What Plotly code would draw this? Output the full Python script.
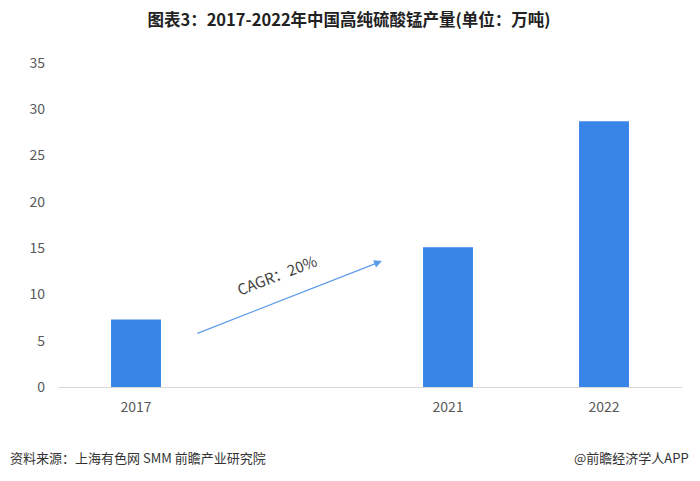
import plotly.graph_objects as go

categories = ["2017", " ", "2021", "2022"]
values = [7.3, None, 15.1, 28.7]
y_ticks = [0, 5, 10, 15, 20, 25, 30, 35]

title_text = "图表3：2017-2022年中国高纯硫酸锰产量(单位：万吨)"
source_text = "资料来源：上海有色网 SMM 前瞻产业研究院"
brand_text = "@前瞻经济学人APP"
cagr_text = "CAGR：20%"

font_cn = "Noto Sans CJK SC"
bar_color = "#3885E8"

# the page draws the figure 8px in from the top-left corner
L, T, B, R = 50, 55, 102, 26
W, H = 700, 481
PW, PH = W - L - R, H - T - B

fig = go.Figure()
fig.add_trace(go.Bar(
    x=categories, y=values,
    marker=dict(color=bar_color, line=dict(width=0)),
    hoverinfo="x+y",
))

fig.update_layout(
    width=W, height=H,
    margin=dict(l=L, r=R, t=T, b=B),
    paper_bgcolor="white", plot_bgcolor="white",
    bargap=0.68,
    showlegend=False,
    font=dict(family=font_cn, color="#595959", size=14),
    title=dict(text="<b>" + title_text + "</b>", x=341 / W, xanchor="center",
               y=1 - 12 / H, yanchor="middle",
               font=dict(family=font_cn, size=16.5, color="#222222")),
    xaxis=dict(type="category", categoryorder="array", categoryarray=categories,
               showgrid=False, showline=True, linecolor="#D9D9D9", linewidth=1,
               ticks="", ticklabelstandoff=7,
               tickfont=dict(size=14, color="#595959"), fixedrange=True),
    yaxis=dict(range=[0, 35], tickvals=y_ticks, showgrid=False, zeroline=False,
               showline=False, ticks="", ticklabelstandoff=12,
               tickfont=dict(size=14, color="#595959"), fixedrange=True),
)

# CAGR arrow
fig.add_annotation(x=0.519, y=13.6, ax=0.221, ay=5.73,
                   xref="x domain", yref="y", axref="x domain", ayref="y",
                   text="", showarrow=True, arrowhead=2, arrowsize=1.3,
                   arrowwidth=1.2, arrowcolor="#5B9BEA")
fig.add_annotation(x=0.351, y=12.1, xref="x domain", yref="y",
                   text=cagr_text, showarrow=False, textangle=-21,
                   font=dict(family=font_cn, size=15, color="#404040"))

# footer (paper coords are relative to the plot area)
foot_y = (H - B - 449) / PH
fig.add_annotation(x=(0 - L) / PW, y=foot_y, xref="paper", yref="paper",
                   xanchor="left", yanchor="middle", text=source_text,
                   showarrow=False, font=dict(family=font_cn, size=13, color="#333333"))
fig.add_annotation(x=(683 - L) / PW, y=foot_y, xref="paper", yref="paper",
                   xanchor="right", yanchor="middle", text=brand_text,
                   showarrow=False, font=dict(family=font_cn, size=13, color="#333333"))

fig.write_html("out.html")
